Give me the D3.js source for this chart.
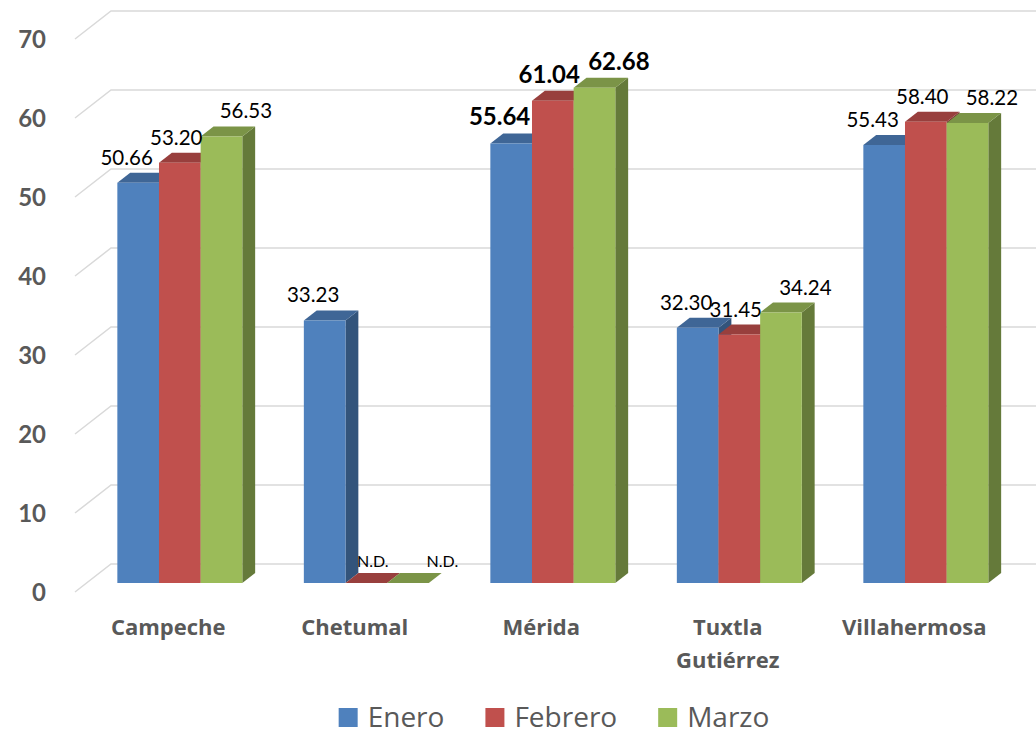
<!DOCTYPE html>
<html>
<head>
<meta charset="utf-8">
<script src="https://cdn.jsdelivr.net/npm/d3@7"></script>
<style>
  body { margin: 0; background: #fff; }
  text { font-family: Lato, "Open Sans", sans-serif; }
  .cat, .legend text { font-family: "Open Sans", Lato, sans-serif; }
</style>
</head>
<body>
<div id="chart"></div>
<script>
// data
const categories = ['Campeche', 'Chetumal', 'Mérida', 'Tuxtla Gutiérrez', 'Villahermosa']
const seriesNames = ['Enero', 'Febrero', 'Marzo']
const enero = [50.66, 33.23, 55.64, 32.30, 55.43]
const febrero = [53.20, null, 61.04, 31.45, 58.40]
const marzo = [56.53, null, 62.68, 34.24, 58.22]
const yTicks = [0, 10, 20, 30, 40, 50, 60, 70]
const boldCategory = 'Mérida'

const colors = ['#4F81BD', '#C0504D', '#9BBB59']

const width = 1036
const height = 735

// 3d projection: depth z in [0,1] from floor front to back wall
const DX = 36, DY = 28
const zFront = 9 / 28, zBack = 19 / 28

const svg = d3.select('#chart')
    .append('svg')
    .attr('width', width)
    .attr('height', height)

const x0 = d3.scaleBand()
    .domain(categories)
    .range([75, 75 + 5 * 186.5])

const gap = x0.bandwidth() * 0.165
const x1 = d3.scaleBand()
    .domain(seriesNames)
    .range([gap, x0.bandwidth() - gap])

const y = d3.scaleLinear()
    .domain([0, 70])
    .range([592, 39])

const proj = (xf, v, z) => [xf + z * DX, y(v) - z * DY]

// gridlines on side + back wall
const grid = svg.append('g')
yTicks.forEach(t => {
    const a = proj(75, t, 0), b = proj(75, t, 1)
    grid.append('path')
        .attr('d', `M${a[0]},${a[1]}L${b[0]},${b[1]}L${width},${b[1]}`)
        .attr('fill', 'none')
        .attr('stroke', '#D9D9D9')
        .attr('stroke-width', 1.5)
})

// y labels
svg.append('g').selectAll('text')
    .data(yTicks)
    .join('text')
    .attr('x', 46)
    .attr('y', d => y(d))
    .attr('dy', '0.36em')
    .attr('text-anchor', 'end')
    .attr('font-size', 24)
    .attr('font-weight', 'bold')
    .attr('fill', '#595959')
    .text(d => d)

// bars
const values = [enero, febrero, marzo]
const bars = []
categories.forEach((c, i) => {
    seriesNames.forEach((s, j) => {
        bars.push({ cat: c, series: j, value: values[j][i] })
    })
})

const barG = svg.append('g')
bars.forEach(d => {
    const v = d.value == null ? 0 : d.value
    const xl = x0(d.cat) + x1(seriesNames[d.series])
    const xr = xl + x1.bandwidth()
    const base = d3.color(colors[d.series])
    const pts = (arr) => arr.map(p => p.join(',')).join(' ')

    // side face
    barG.append('polygon')
        .attr('points', pts([proj(xr, 0, zFront), proj(xr, v, zFront), proj(xr, v, zBack), proj(xr, 0, zBack)]))
        .attr('fill', base.darker(1.2))
    // top face
    barG.append('polygon')
        .attr('points', pts([proj(xl, v, zFront), proj(xr, v, zFront), proj(xr, v, zBack), proj(xl, v, zBack)]))
        .attr('fill', base.darker(0.65))
    // front face
    if (v > 0) {
        barG.append('polygon')
            .attr('points', pts([proj(xl, 0, zFront), proj(xr, 0, zFront), proj(xr, v, zFront), proj(xl, v, zFront)]))
            .attr('fill', base)
    }
})

// value labels
const labelShift = [-18, -10, 18]
svg.append('g').selectAll('text')
    .data(bars)
    .join('text')
    .attr('x', d => {
        const xl = x0(d.cat) + x1(seriesNames[d.series])
        const nd = d.value == null ? 10 : 0
        return proj(xl + x1.bandwidth() / 2, 0, (zFront + zBack) / 2)[0] + labelShift[d.series] + nd
    })
    .attr('y', d => proj(0, d.value == null ? 0 : d.value, zBack)[1] - (d.value == null ? 6 : 8))
    .attr('text-anchor', 'middle')
    .attr('font-size', d => d.value == null ? 16 : (d.cat === boldCategory ? 24 : 20.5))
    .attr('font-weight', d => d.cat === boldCategory ? 'bold' : 'normal')
    .attr('fill', '#000')
    .text(d => d.value == null ? 'N.D.' : d3.format('.2f')(d.value))

// category labels
const catG = svg.append('g')
categories.forEach(c => {
    const cx = x0(c) + x0.bandwidth() / 2
    const t = catG.append('text')
        .attr('class', 'cat')
        .attr('x', cx)
        .attr('y', 635)
        .attr('text-anchor', 'middle')
        .attr('font-size', 22)
        .attr('font-weight', 'bold')
        .attr('fill', '#595959')
        .text(c)
    if (t.node().getComputedTextLength() > 160) {
        t.text(null)
        c.split(' ').forEach((w, k) => {
            t.append('tspan')
                .attr('x', cx)
                .attr('dy', k === 0 ? 0 : 33)
                .text(w)
        })
    }
})

// legend
const legend = svg.append('g').attr('class', 'legend')
let lx = 0
seriesNames.forEach((s, j) => {
    legend.append('rect')
        .attr('x', lx)
        .attr('y', 708)
        .attr('width', 19)
        .attr('height', 19)
        .attr('fill', colors[j])
    const t = legend.append('text')
        .attr('x', lx + 29)
        .attr('y', 727)
        .attr('font-size', 28)
        .attr('fill', '#595959')
        .text(s)
    lx += 29 + t.node().getComputedTextLength() + 41
})
lx -= 41
legend.attr('transform', `translate(${554 - lx / 2},0)`)
</script>
</body>
</html>
